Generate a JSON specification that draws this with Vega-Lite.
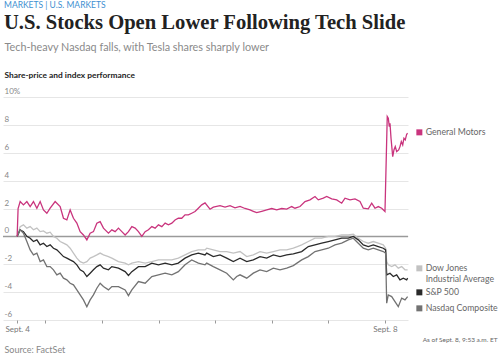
{
"$schema": "https://vega.github.io/schema/vega-lite/v6.json",
"width": 405, "height": 223,
"autosize": {"type": "none"},
"padding": {"left": 3, "top": 97, "right": 92, "bottom": 35},
"background": "white",
"title": {"text": "MARKETS | U.S. MARKETS", "subtitle": "U.S. Stocks Open Lower Following Tech Slide", "anchor": "start", "frame": "group", "dx": 1, "font": "Lato", "fontSize": 8.5, "fontWeight": "normal", "color": "#3d8fd1", "subtitleFont": "Liberation Serif", "subtitleFontSize": 20.6, "subtitleFontWeight": "bold", "subtitleColor": "#222222", "subtitlePadding": 4, "offset": 7},
"config": {"view": {"stroke": null}},
"datasets": {
"prices": [
{"series":"General Motors","t":0,"v":0},{"series":"General Motors","t":1,"v":2.0},{"series":"General Motors","t":3.2,"v":2.5},{"series":"General Motors","t":6.7,"v":2.26},{"series":"General Motors","t":10.3,"v":2.5},{"series":"General Motors","t":13.8,"v":2.14},{"series":"General Motors","t":17.3,"v":2.5},{"series":"General Motors","t":20.9,"v":2.02},{"series":"General Motors","t":24.4,"v":2.5},{"series":"General Motors","t":27.9,"v":1.9},{"series":"General Motors","t":31.5,"v":1.66},{"series":"General Motors","t":35,"v":2.02},{"series":"General Motors","t":40.3,"v":2.5},{"series":"General Motors","t":45.6,"v":2.14},{"series":"General Motors","t":49.1,"v":1.3},{"series":"General Motors","t":52.7,"v":1.18},{"series":"General Motors","t":56.2,"v":1.9},{"series":"General Motors","t":59.7,"v":1.3},{"series":"General Motors","t":63.3,"v":0.95},{"series":"General Motors","t":66.8,"v":0.34},{"series":"General Motors","t":70.3,"v":0.1},{"series":"General Motors","t":73.9,"v":-0.25},{"series":"General Motors","t":77.4,"v":0.23},{"series":"General Motors","t":80.9,"v":0.34},{"series":"General Motors","t":84.5,"v":0.95},{"series":"General Motors","t":88,"v":1.06},{"series":"General Motors","t":91.5,"v":0.59},{"series":"General Motors","t":96.8,"v":0.23},{"series":"General Motors","t":100.4,"v":0.47},{"series":"General Motors","t":103.9,"v":0.34},{"series":"General Motors","t":107.4,"v":0.59},{"series":"General Motors","t":111,"v":0.34},{"series":"General Motors","t":114.5,"v":0.1},{"series":"General Motors","t":118,"v":0.34},{"series":"General Motors","t":121.6,"v":0.7},{"series":"General Motors","t":125.1,"v":0.59},{"series":"General Motors","t":128.6,"v":0.34},{"series":"General Motors","t":132.2,"v":0},{"series":"General Motors","t":135.7,"v":0.34},{"series":"General Motors","t":139.2,"v":0.47},{"series":"General Motors","t":142.8,"v":0.7},{"series":"General Motors","t":146.3,"v":0.59},{"series":"General Motors","t":149.8,"v":0.83},{"series":"General Motors","t":153.4,"v":0.7},{"series":"General Motors","t":156.9,"v":0.95},{"series":"General Motors","t":160.4,"v":0.83},{"series":"General Motors","t":164,"v":0.95},{"series":"General Motors","t":167.4,"v":1.18},{"series":"General Motors","t":170.9,"v":1.3},{"series":"General Motors","t":174.5,"v":1.3},{"series":"General Motors","t":178,"v":1.54},{"series":"General Motors","t":181.5,"v":1.54},{"series":"General Motors","t":185.1,"v":1.66},{"series":"General Motors","t":188.6,"v":1.78},{"series":"General Motors","t":192.1,"v":2.02},{"series":"General Motors","t":195.7,"v":2.26},{"series":"General Motors","t":199.2,"v":2.4},{"series":"General Motors","t":204.5,"v":1.95},{"series":"General Motors","t":208,"v":2.1},{"series":"General Motors","t":215.1,"v":2.2},{"series":"General Motors","t":220.4,"v":2.1},{"series":"General Motors","t":225.7,"v":2.2},{"series":"General Motors","t":231,"v":2.05},{"series":"General Motors","t":236.3,"v":2.15},{"series":"General Motors","t":241.6,"v":2.0},{"series":"General Motors","t":246.9,"v":1.9},{"series":"General Motors","t":250.4,"v":1.8},{"series":"General Motors","t":254,"v":1.7},{"series":"General Motors","t":259.3,"v":1.8},{"series":"General Motors","t":264.6,"v":1.9},{"series":"General Motors","t":269.9,"v":2.0},{"series":"General Motors","t":275.2,"v":1.9},{"series":"General Motors","t":280.5,"v":2.0},{"series":"General Motors","t":285.8,"v":1.95},{"series":"General Motors","t":291.1,"v":2.14},{"series":"General Motors","t":294.6,"v":2.02},{"series":"General Motors","t":299.9,"v":2.14},{"series":"General Motors","t":305.2,"v":2.5},{"series":"General Motors","t":310.5,"v":2.62},{"series":"General Motors","t":315.8,"v":2.86},{"series":"General Motors","t":319.3,"v":2.62},{"series":"General Motors","t":324.6,"v":2.74},{"series":"General Motors","t":328.2,"v":2.86},{"series":"General Motors","t":333.5,"v":2.69},{"series":"General Motors","t":338.8,"v":2.62},{"series":"General Motors","t":344.1,"v":2.38},{"series":"General Motors","t":347.6,"v":2.74},{"series":"General Motors","t":352.9,"v":2.62},{"series":"General Motors","t":358.2,"v":2.69},{"series":"General Motors","t":363.5,"v":2.5},{"series":"General Motors","t":367,"v":2.02},{"series":"General Motors","t":372.3,"v":1.97},{"series":"General Motors","t":375.9,"v":2.38},{"series":"General Motors","t":379.4,"v":2.02},{"series":"General Motors","t":382.9,"v":2.14},{"series":"General Motors","t":386.5,"v":2.02},{"series":"General Motors","t":390,"v":1.78},{"series":"General Motors","t":392.4,"v":8.6},{"series":"General Motors","t":393.5,"v":8.48},{"series":"General Motors","t":394.6,"v":7.88},{"series":"General Motors","t":395.3,"v":8.12},{"series":"General Motors","t":396.4,"v":7.04},{"series":"General Motors","t":398.2,"v":5.72},{"series":"General Motors","t":399.5,"v":6.2},{"series":"General Motors","t":400.9,"v":6.44},{"series":"General Motors","t":402.4,"v":6.08},{"series":"General Motors","t":404.5,"v":6.2},{"series":"General Motors","t":405.9,"v":6.44},{"series":"General Motors","t":407.3,"v":6.8},{"series":"General Motors","t":408.8,"v":6.56},{"series":"General Motors","t":410.1,"v":7.04},{"series":"General Motors","t":411.5,"v":6.92},{"series":"General Motors","t":413,"v":7.33},{"series":"General Motors","t":414,"v":7.4},
{"series":"Dow Jones Industrial Average","t":0,"v":0},{"series":"Dow Jones Industrial Average","t":3.2,"v":0.7},{"series":"Dow Jones Industrial Average","t":6.7,"v":0.83},{"series":"Dow Jones Industrial Average","t":10.3,"v":0.59},{"series":"Dow Jones Industrial Average","t":13.8,"v":0.7},{"series":"Dow Jones Industrial Average","t":17.3,"v":0.47},{"series":"Dow Jones Industrial Average","t":20.9,"v":0.59},{"series":"Dow Jones Industrial Average","t":24.4,"v":0.34},{"series":"Dow Jones Industrial Average","t":27.9,"v":0.39},{"series":"Dow Jones Industrial Average","t":31.5,"v":0.23},{"series":"Dow Jones Industrial Average","t":35,"v":0.3},{"series":"Dow Jones Industrial Average","t":38.5,"v":0},{"series":"Dow Jones Industrial Average","t":42.1,"v":-0.13},{"series":"Dow Jones Industrial Average","t":45.6,"v":-0.37},{"series":"Dow Jones Industrial Average","t":49.1,"v":-0.49},{"series":"Dow Jones Industrial Average","t":52.7,"v":-0.61},{"series":"Dow Jones Industrial Average","t":56.2,"v":-0.85},{"series":"Dow Jones Industrial Average","t":59.7,"v":-1.2},{"series":"Dow Jones Industrial Average","t":63.3,"v":-1.56},{"series":"Dow Jones Industrial Average","t":66.8,"v":-1.81},{"series":"Dow Jones Industrial Average","t":70.3,"v":-1.92},{"series":"Dow Jones Industrial Average","t":73.9,"v":-1.81},{"series":"Dow Jones Industrial Average","t":77.4,"v":-1.56},{"series":"Dow Jones Industrial Average","t":80.9,"v":-1.45},{"series":"Dow Jones Industrial Average","t":84.5,"v":-1.33},{"series":"Dow Jones Industrial Average","t":88,"v":-1.2},{"series":"Dow Jones Industrial Average","t":91.5,"v":-1.33},{"series":"Dow Jones Industrial Average","t":96.8,"v":-1.45},{"series":"Dow Jones Industrial Average","t":100.4,"v":-1.56},{"series":"Dow Jones Industrial Average","t":107.4,"v":-1.81},{"series":"Dow Jones Industrial Average","t":114.5,"v":-1.92},{"series":"Dow Jones Industrial Average","t":118,"v":-2.04},{"series":"Dow Jones Industrial Average","t":121.6,"v":-1.92},{"series":"Dow Jones Industrial Average","t":128.6,"v":-1.81},{"series":"Dow Jones Industrial Average","t":135.7,"v":-1.92},{"series":"Dow Jones Industrial Average","t":142.8,"v":-1.81},{"series":"Dow Jones Industrial Average","t":149.8,"v":-1.69},{"series":"Dow Jones Industrial Average","t":156.9,"v":-1.69},{"series":"Dow Jones Industrial Average","t":164,"v":-1.69},{"series":"Dow Jones Industrial Average","t":170.9,"v":-1.56},{"series":"Dow Jones Industrial Average","t":178,"v":-1.33},{"series":"Dow Jones Industrial Average","t":185.1,"v":-1.09},{"series":"Dow Jones Industrial Average","t":192.1,"v":-0.97},{"series":"Dow Jones Industrial Average","t":199.2,"v":-0.97},{"series":"Dow Jones Industrial Average","t":201,"v":-0.85},{"series":"Dow Jones Industrial Average","t":208,"v":-0.97},{"series":"Dow Jones Industrial Average","t":215.1,"v":-1.09},{"series":"Dow Jones Industrial Average","t":222.2,"v":-1.09},{"series":"Dow Jones Industrial Average","t":229.2,"v":-1.2},{"series":"Dow Jones Industrial Average","t":236.3,"v":-1.09},{"series":"Dow Jones Industrial Average","t":243.4,"v":-1.45},{"series":"Dow Jones Industrial Average","t":250.4,"v":-1.33},{"series":"Dow Jones Industrial Average","t":257.5,"v":-1.09},{"series":"Dow Jones Industrial Average","t":264.6,"v":-1.2},{"series":"Dow Jones Industrial Average","t":271.6,"v":-1.09},{"series":"Dow Jones Industrial Average","t":278.7,"v":-0.97},{"series":"Dow Jones Industrial Average","t":285.8,"v":-0.97},{"series":"Dow Jones Industrial Average","t":292.8,"v":-0.85},{"series":"Dow Jones Industrial Average","t":296.4,"v":-0.75},{"series":"Dow Jones Industrial Average","t":301.7,"v":-0.61},{"series":"Dow Jones Industrial Average","t":308.7,"v":-0.37},{"series":"Dow Jones Industrial Average","t":315.8,"v":-0.13},{"series":"Dow Jones Industrial Average","t":322.9,"v":-0.13},{"series":"Dow Jones Industrial Average","t":329.9,"v":0},{"series":"Dow Jones Industrial Average","t":337,"v":0},{"series":"Dow Jones Industrial Average","t":344.1,"v":0.1},{"series":"Dow Jones Industrial Average","t":351.1,"v":0.1},{"series":"Dow Jones Industrial Average","t":356.4,"v":0.15},{"series":"Dow Jones Industrial Average","t":361.7,"v":-0.13},{"series":"Dow Jones Industrial Average","t":367,"v":-0.37},{"series":"Dow Jones Industrial Average","t":372.3,"v":-0.49},{"series":"Dow Jones Industrial Average","t":377.6,"v":-0.37},{"series":"Dow Jones Industrial Average","t":382.9,"v":-0.49},{"series":"Dow Jones Industrial Average","t":388.2,"v":-0.61},{"series":"Dow Jones Industrial Average","t":390.7,"v":-0.85},{"series":"Dow Jones Industrial Average","t":391.8,"v":-1.81},{"series":"Dow Jones Industrial Average","t":393.5,"v":-2.04},{"series":"Dow Jones Industrial Average","t":397.1,"v":-2.17},{"series":"Dow Jones Industrial Average","t":400.6,"v":-2.04},{"series":"Dow Jones Industrial Average","t":404.1,"v":-2.28},{"series":"Dow Jones Industrial Average","t":407.7,"v":-2.17},{"series":"Dow Jones Industrial Average","t":411.2,"v":-2.4},{"series":"Dow Jones Industrial Average","t":414,"v":-2.4},
{"series":"S&P 500","t":0,"v":0},{"series":"S&P 500","t":3.2,"v":0.47},{"series":"S&P 500","t":6.7,"v":0.34},{"series":"S&P 500","t":10.3,"v":0},{"series":"S&P 500","t":13.8,"v":-0.13},{"series":"S&P 500","t":17.3,"v":-0.37},{"series":"S&P 500","t":20.9,"v":-0.25},{"series":"S&P 500","t":24.4,"v":-0.61},{"series":"S&P 500","t":27.9,"v":-0.49},{"series":"S&P 500","t":31.5,"v":-0.73},{"series":"S&P 500","t":35,"v":-0.61},{"series":"S&P 500","t":38.5,"v":-0.85},{"series":"S&P 500","t":42.1,"v":-0.97},{"series":"S&P 500","t":45.6,"v":-1.2},{"series":"S&P 500","t":49.1,"v":-1.45},{"series":"S&P 500","t":52.7,"v":-1.56},{"series":"S&P 500","t":56.2,"v":-1.69},{"series":"S&P 500","t":59.7,"v":-1.81},{"series":"S&P 500","t":63.3,"v":-2.04},{"series":"S&P 500","t":66.8,"v":-2.4},{"series":"S&P 500","t":70.3,"v":-2.53},{"series":"S&P 500","t":73.9,"v":-2.88},{"series":"S&P 500","t":77.4,"v":-2.64},{"series":"S&P 500","t":80.9,"v":-2.4},{"series":"S&P 500","t":84.5,"v":-2.17},{"series":"S&P 500","t":88,"v":-2.04},{"series":"S&P 500","t":91.5,"v":-2.28},{"series":"S&P 500","t":96.8,"v":-2.4},{"series":"S&P 500","t":100.4,"v":-2.17},{"series":"S&P 500","t":107.4,"v":-2.28},{"series":"S&P 500","t":114.5,"v":-2.53},{"series":"S&P 500","t":118,"v":-2.8},{"series":"S&P 500","t":121.6,"v":-2.53},{"series":"S&P 500","t":128.6,"v":-2.17},{"series":"S&P 500","t":135.7,"v":-2.17},{"series":"S&P 500","t":142.8,"v":-1.92},{"series":"S&P 500","t":149.8,"v":-2.04},{"series":"S&P 500","t":156.9,"v":-1.92},{"series":"S&P 500","t":164,"v":-2.04},{"series":"S&P 500","t":170.9,"v":-1.92},{"series":"S&P 500","t":178,"v":-1.56},{"series":"S&P 500","t":185.1,"v":-1.33},{"series":"S&P 500","t":192.1,"v":-1.2},{"series":"S&P 500","t":199.2,"v":-1.33},{"series":"S&P 500","t":201,"v":-1.2},{"series":"S&P 500","t":208,"v":-1.45},{"series":"S&P 500","t":215.1,"v":-1.33},{"series":"S&P 500","t":222.2,"v":-1.56},{"series":"S&P 500","t":229.2,"v":-1.81},{"series":"S&P 500","t":236.3,"v":-1.56},{"series":"S&P 500","t":243.4,"v":-1.81},{"series":"S&P 500","t":250.4,"v":-1.69},{"series":"S&P 500","t":257.5,"v":-1.45},{"series":"S&P 500","t":264.6,"v":-1.56},{"series":"S&P 500","t":271.6,"v":-1.33},{"series":"S&P 500","t":278.7,"v":-1.45},{"series":"S&P 500","t":285.8,"v":-1.33},{"series":"S&P 500","t":292.8,"v":-1.25},{"series":"S&P 500","t":301.7,"v":-1.09},{"series":"S&P 500","t":308.7,"v":-0.73},{"series":"S&P 500","t":315.8,"v":-0.61},{"series":"S&P 500","t":322.9,"v":-0.49},{"series":"S&P 500","t":329.9,"v":-0.37},{"series":"S&P 500","t":337,"v":-0.25},{"series":"S&P 500","t":344.1,"v":-0.13},{"series":"S&P 500","t":351.1,"v":-0.13},{"series":"S&P 500","t":356.4,"v":0},{"series":"S&P 500","t":361.7,"v":-0.25},{"series":"S&P 500","t":367,"v":-0.61},{"series":"S&P 500","t":372.3,"v":-0.73},{"series":"S&P 500","t":377.6,"v":-0.61},{"series":"S&P 500","t":382.9,"v":-0.73},{"series":"S&P 500","t":388.2,"v":-0.85},{"series":"S&P 500","t":390.7,"v":-0.97},{"series":"S&P 500","t":391.8,"v":-2.76},{"series":"S&P 500","t":395.3,"v":-2.64},{"series":"S&P 500","t":398.8,"v":-2.88},{"series":"S&P 500","t":402.4,"v":-2.76},{"series":"S&P 500","t":405.9,"v":-3.12},{"series":"S&P 500","t":409.4,"v":-3.0},{"series":"S&P 500","t":413,"v":-3.12},{"series":"S&P 500","t":414,"v":-3.0},
{"series":"Nasdaq Composite","t":0,"v":0},{"series":"Nasdaq Composite","t":3.2,"v":0.47},{"series":"Nasdaq Composite","t":6.7,"v":0.23},{"series":"Nasdaq Composite","t":10.3,"v":-0.37},{"series":"Nasdaq Composite","t":13.8,"v":-0.97},{"series":"Nasdaq Composite","t":17.3,"v":-1.33},{"series":"Nasdaq Composite","t":20.9,"v":-1.2},{"series":"Nasdaq Composite","t":24.4,"v":-1.81},{"series":"Nasdaq Composite","t":27.9,"v":-1.69},{"series":"Nasdaq Composite","t":31.5,"v":-2.17},{"series":"Nasdaq Composite","t":35,"v":-2.17},{"series":"Nasdaq Composite","t":38.5,"v":-2.4},{"series":"Nasdaq Composite","t":42.1,"v":-2.76},{"series":"Nasdaq Composite","t":45.6,"v":-2.64},{"series":"Nasdaq Composite","t":49.1,"v":-3.0},{"series":"Nasdaq Composite","t":52.7,"v":-3.12},{"series":"Nasdaq Composite","t":56.2,"v":-3.36},{"series":"Nasdaq Composite","t":59.7,"v":-3.48},{"series":"Nasdaq Composite","t":63.3,"v":-3.84},{"series":"Nasdaq Composite","t":66.8,"v":-4.2},{"series":"Nasdaq Composite","t":70.3,"v":-4.56},{"series":"Nasdaq Composite","t":73.9,"v":-5.05},{"series":"Nasdaq Composite","t":77.4,"v":-4.56},{"series":"Nasdaq Composite","t":80.9,"v":-4.2},{"series":"Nasdaq Composite","t":84.5,"v":-3.72},{"series":"Nasdaq Composite","t":88,"v":-3.36},{"series":"Nasdaq Composite","t":91.5,"v":-3.6},{"series":"Nasdaq Composite","t":96.8,"v":-3.84},{"series":"Nasdaq Composite","t":100.4,"v":-3.6},{"series":"Nasdaq Composite","t":107.4,"v":-3.6},{"series":"Nasdaq Composite","t":114.5,"v":-3.84},{"series":"Nasdaq Composite","t":118,"v":-4.25},{"series":"Nasdaq Composite","t":121.6,"v":-3.84},{"series":"Nasdaq Composite","t":128.6,"v":-3.24},{"series":"Nasdaq Composite","t":135.7,"v":-3.36},{"series":"Nasdaq Composite","t":142.8,"v":-2.88},{"series":"Nasdaq Composite","t":149.8,"v":-2.76},{"series":"Nasdaq Composite","t":156.9,"v":-2.64},{"series":"Nasdaq Composite","t":164,"v":-2.76},{"series":"Nasdaq Composite","t":170.9,"v":-2.53},{"series":"Nasdaq Composite","t":178,"v":-2.04},{"series":"Nasdaq Composite","t":185.1,"v":-1.69},{"series":"Nasdaq Composite","t":192.1,"v":-1.92},{"series":"Nasdaq Composite","t":199.2,"v":-2.04},{"series":"Nasdaq Composite","t":201,"v":-1.92},{"series":"Nasdaq Composite","t":208,"v":-2.17},{"series":"Nasdaq Composite","t":215.1,"v":-2.4},{"series":"Nasdaq Composite","t":222.2,"v":-2.64},{"series":"Nasdaq Composite","t":229.2,"v":-3.12},{"series":"Nasdaq Composite","t":232.8,"v":-2.88},{"series":"Nasdaq Composite","t":236.3,"v":-2.76},{"series":"Nasdaq Composite","t":243.4,"v":-3.0},{"series":"Nasdaq Composite","t":250.4,"v":-2.64},{"series":"Nasdaq Composite","t":257.5,"v":-2.4},{"series":"Nasdaq Composite","t":264.6,"v":-2.53},{"series":"Nasdaq Composite","t":271.6,"v":-2.28},{"series":"Nasdaq Composite","t":278.7,"v":-2.4},{"series":"Nasdaq Composite","t":285.8,"v":-2.28},{"series":"Nasdaq Composite","t":292.8,"v":-2.1},{"series":"Nasdaq Composite","t":301.7,"v":-1.69},{"series":"Nasdaq Composite","t":308.7,"v":-1.45},{"series":"Nasdaq Composite","t":315.8,"v":-1.09},{"series":"Nasdaq Composite","t":322.9,"v":-0.97},{"series":"Nasdaq Composite","t":329.9,"v":-0.85},{"series":"Nasdaq Composite","t":337,"v":-0.61},{"series":"Nasdaq Composite","t":344.1,"v":-0.49},{"series":"Nasdaq Composite","t":351.1,"v":-0.25},{"series":"Nasdaq Composite","t":356.4,"v":-0.13},{"series":"Nasdaq Composite","t":361.7,"v":-0.49},{"series":"Nasdaq Composite","t":367,"v":-0.85},{"series":"Nasdaq Composite","t":372.3,"v":-0.97},{"series":"Nasdaq Composite","t":377.6,"v":-0.85},{"series":"Nasdaq Composite","t":382.9,"v":-0.97},{"series":"Nasdaq Composite","t":388.2,"v":-1.09},{"series":"Nasdaq Composite","t":390.7,"v":-1.2},{"series":"Nasdaq Composite","t":391.8,"v":-4.79},{"series":"Nasdaq Composite","t":393.5,"v":-4.2},{"series":"Nasdaq Composite","t":397.1,"v":-4.32},{"series":"Nasdaq Composite","t":400.6,"v":-4.68},{"series":"Nasdaq Composite","t":404.1,"v":-5.04},{"series":"Nasdaq Composite","t":407.7,"v":-4.43},{"series":"Nasdaq Composite","t":411.2,"v":-4.56},{"series":"Nasdaq Composite","t":414,"v":-4.32}
]
},
"layer": [
{
"data": {"values": [{"v": 0}]},
"mark": {"type": "rule", "color": "#9a9a9a", "strokeWidth": 1.5},
"encoding": {"y": {"field": "v", "type": "quantitative", "axis": null}}
},
{
"data": {"name": "prices"},
"transform": [{"filter": "datum.series != 'General Motors'"}],
"mark": {"type": "line", "strokeWidth": 1.3, "interpolate": "linear"},
"encoding": {
"x": {"field": "t", "type": "quantitative", "scale": {"domain": [-15, 414.4], "nice": false, "zero": false},
"axis": {"orient": "bottom", "values": [0, 30, 90, 150, 210, 270, 330, 390], "labelExpr": "datum.value == 0 ? 'Sept. 4' : datum.value == 390 ? 'Sept. 8' : ''", "labelFlush": false, "labelOverlap": false, "ticks": true, "tickSize": 3, "tickColor": "#999999", "domain": false, "grid": false, "labelFont": "Lato", "labelFontSize": 8, "labelColor": "#777777", "labelPadding": 2, "title": "Source: FactSet", "titleX": 1, "titleY": 29, "titleAlign": "left", "titleBaseline": "middle", "titleFont": "Lato", "titleFontSize": 9, "titleColor": "#888888", "titleFontWeight": "normal"}},
"y": {"field": "v", "type": "quantitative", "scale": {"domain": [-6, 10], "nice": false, "zero": false},
"axis": {"orient": "left", "values": [-6, -4, -2, 0, 2, 4, 6, 8, 10], "labelExpr": "datum.value == 10 ? '10%' : '' + datum.value", "labelAlign": "left", "labelBaseline": "bottom", "labelPadding": -1, "labelOffset": -1.5, "labelFlush": false, "ticks": false, "tickSize": 0, "domain": false, "grid": true, "gridColor": "#e6e6e6", "gridWidth": 1, "labelFont": "Lato", "labelFontSize": 8, "labelColor": "#888888", "title": "Share-price and index performance", "titleAngle": 0, "titleAlign": "left", "titleBaseline": "middle", "titleX": 1, "titleY": -23, "titleFont": "Lato", "titleFontSize": 8.4, "titleFontWeight": "bold", "titleColor": "#222222"}},
"color": {"field": "series", "type": "nominal", "sort": null,
"scale": {"domain": ["Dow Jones Industrial Average", "S&P 500", "Nasdaq Composite"], "range": ["#c2c2c2", "#2a2a2a", "#727272"]},
"legend": {"orient": "none", "legendX": 412, "legendY": 167, "title": null, "padding": 0, "symbolType": "square", "symbolSize": 9, "symbolStrokeWidth": 3, "labelFont": "Lato", "labelFontSize": 8.7, "labelColor": "#666666", "labelOffset": 2, "rowPadding": 0, "labelExpr": "datum.label == 'Dow Jones Industrial Average' ? ['Dow Jones', 'Industrial Average'] : datum.label"}}
}
},
{
"data": {"name": "prices"},
"transform": [{"filter": "datum.series == 'General Motors'"}],
"mark": {"type": "line", "strokeWidth": 1.3},
"encoding": {
"x": {"field": "t", "type": "quantitative",
"axis": {"orient": "top", "labels": false, "ticks": false, "domain": false, "grid": false, "title": "Tech-heavy Nasdaq falls, with Tesla shares sharply lower", "titleFont": "Lato", "titleFontSize": 10.8, "titleFontWeight": "normal", "titleColor": "#8a8a8a", "titleAlign": "left", "titleBaseline": "middle", "titleX": 1, "titleY": -50}},
"y": {"field": "v", "type": "quantitative",
"axis": {"orient": "right", "labels": false, "ticks": false, "domain": false, "grid": false, "title": "As of Sept. 8, 9:53 a.m. ET", "titleAngle": 0, "titleAlign": "right", "titleBaseline": "middle", "titleX": 89, "titleY": 242, "titleFont": "Lato", "titleFontSize": 6.5, "titleFontWeight": "normal", "titleColor": "#666666"}},
"color": {"field": "series", "type": "nominal",
"scale": {"domain": ["General Motors"], "range": ["#c9347d"]},
"legend": {"orient": "none", "legendX": 412, "legendY": 31, "title": null, "padding": 0, "symbolType": "square", "symbolSize": 9, "symbolStrokeWidth": 3, "labelFont": "Lato", "labelFontSize": 8.7, "labelColor": "#666666", "labelOffset": 2}}
}
}
],
"resolve": {"scale": {"color": "independent"}, "axis": {"x": "independent", "y": "independent"}}
}
